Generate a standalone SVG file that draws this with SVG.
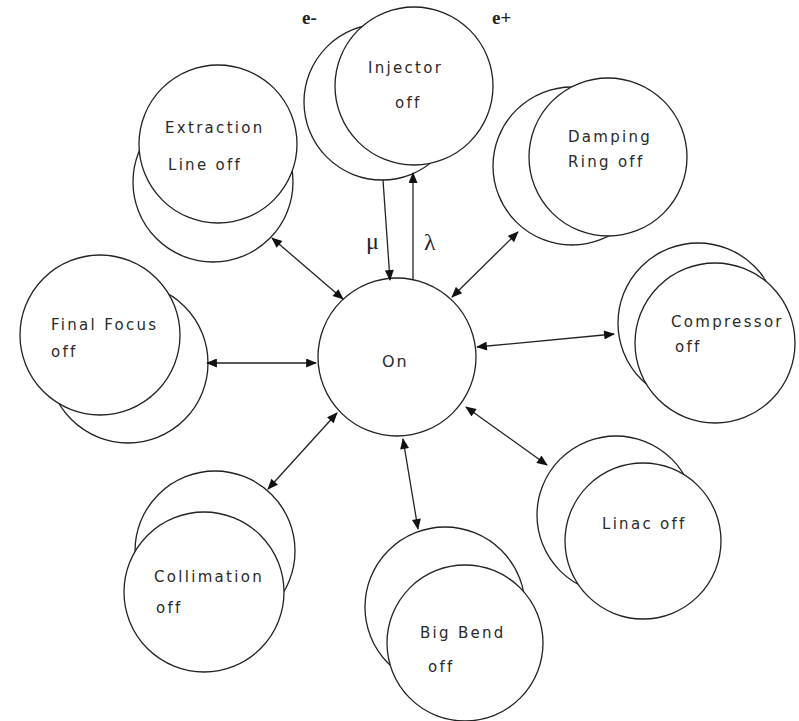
<svg xmlns="http://www.w3.org/2000/svg" width="799" height="721" viewBox="0 0 799 721">
<defs>
<marker id="ah" viewBox="0 0 12 10" refX="11" refY="5" markerWidth="12" markerHeight="9" markerUnits="userSpaceOnUse" orient="auto-start-reverse">
<path d="M0,0 L12,5 L0,10 z" fill="#111"/>
</marker>
<style>
.c{fill:#fff;stroke:#222;stroke-width:1.3}
.t{font-family:"DejaVu Sans","Liberation Sans",sans-serif;font-size:15px;letter-spacing:2.3px;fill:#2a2a2a}
.e{stroke:#222;stroke-width:1.3;fill:none}
.d{marker-start:url(#ah);marker-end:url(#ah)}
.s{marker-end:url(#ah)}
.g{font-family:"Liberation Serif","DejaVu Serif",serif;fill:#222}
</style>
</defs>
<rect width="799" height="721" fill="#fff"/>

<g id="injector">
<circle class="c" cx="382" cy="102" r="78"/>
<circle class="c" cx="414" cy="86" r="79"/>
<text class="t" x="368" y="73">Injector</text>
<text class="t" x="395" y="108">off</text>
</g>

<g id="extraction">
<circle class="c" cx="213" cy="182" r="80"/>
<circle class="c" cx="218" cy="144" r="79"/>
<text class="t" x="165" y="133">Extraction</text>
<text class="t" x="168" y="170">Line off</text>
</g>

<g id="damping">
<circle class="c" cx="572" cy="166" r="79"/>
<circle class="c" cx="608" cy="157" r="79"/>
<text class="t" x="568" y="142">Damping</text>
<text class="t" x="568" y="167">Ring off</text>
</g>

<g id="finalfocus">
<circle class="c" cx="128" cy="363" r="80"/>
<circle class="c" cx="100" cy="335" r="80"/>
<text class="t" x="51" y="330">Final Focus</text>
<text class="t" x="51" y="357">off</text>
</g>

<g id="compressor">
<circle class="c" cx="698" cy="323" r="80"/>
<circle class="c" cx="715" cy="343" r="80"/>
<text class="t" x="671" y="327">Compressor</text>
<text class="t" x="675" y="352">off</text>
</g>

<g id="collimation">
<circle class="c" cx="215" cy="551" r="80"/>
<circle class="c" cx="204" cy="592" r="80"/>
<text class="t" x="154" y="582">Collimation</text>
<text class="t" x="156" y="613">off</text>
</g>

<g id="bigbend">
<circle class="c" cx="445" cy="607" r="80"/>
<circle class="c" cx="465" cy="643" r="78"/>
<text class="t" x="420" y="638">Big Bend</text>
<text class="t" x="428" y="672">off</text>
</g>

<g id="linac">
<circle class="c" cx="616" cy="515" r="79"/>
<circle class="c" cx="643" cy="541" r="78"/>
<text class="t" x="602" y="529">Linac off</text>
</g>

<g id="on">
<circle class="c" cx="397" cy="357" r="79"/>
<text class="t" x="382" y="367" style="font-size:16px;letter-spacing:2px">On</text>
</g>

<g id="connectors">
<line class="e s" x1="383" y1="180" x2="390" y2="280"/>
<line class="e s" x1="413" y1="280" x2="413" y2="173"/>
<line class="e d" x1="272" y1="238" x2="343" y2="299"/>
<line class="e d" x1="452" y1="297" x2="518" y2="232"/>
<line class="e d" x1="207" y1="363" x2="316" y2="363"/>
<line class="e d" x1="477" y1="347" x2="614" y2="334"/>
<line class="e d" x1="268" y1="489" x2="337" y2="413"/>
<line class="e d" x1="403" y1="439" x2="418" y2="529"/>
<line class="e d" x1="466" y1="407" x2="547" y2="465"/>
</g>

<g id="labels">
<text class="g" x="302" y="24" style="font-size:19px;font-weight:bold">e-</text>
<text class="g" x="492" y="24" style="font-size:19px;font-weight:bold">e+</text>
<text class="g" x="366" y="249" style="font-size:24px">μ</text>
<text class="g" x="424" y="250" style="font-size:24px">λ</text>
</g>
</svg>
